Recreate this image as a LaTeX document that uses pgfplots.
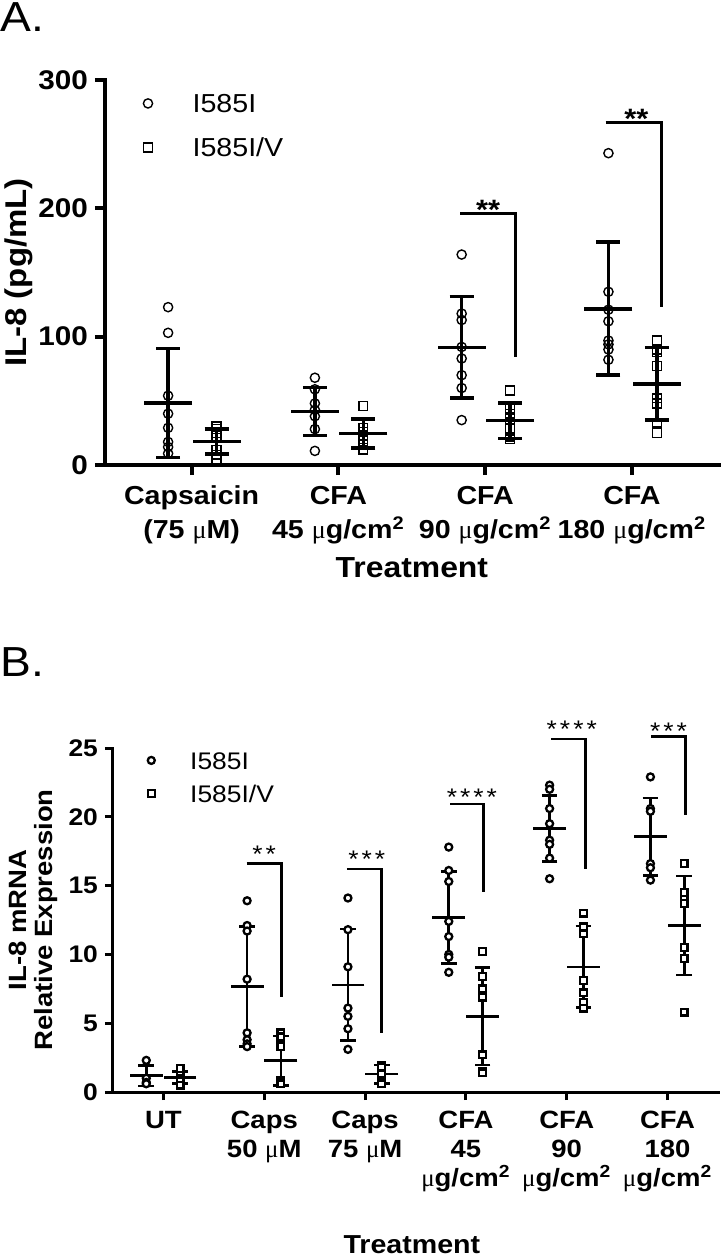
\documentclass[border=0pt]{standalone}
\usepackage{fontspec}
\setmainfont{Liberation Sans}[FakeStretch=1.1]
\newfontfamily\symfont{Liberation Serif}
\newcommand{\umu}{{\symfont\mdseries μ}}
\usepackage{pgfplots}
\pgfplotsset{compat=1.18}

\pgfplotsset{
  panel/.style={
    scale only axis, clip=false,
    axis x line*=bottom, axis y line*=left,
    tick align=outside,
    xtick pos=bottom, ytick pos=left,
    /pgf/number format/assume math mode=true,
    legend cell align=left,
    legend image code/.code={\draw[##1] plot coordinates {(0pt,0pt)};},
  },
}

\begin{document}
\begin{tikzpicture}
\useasboundingbox (0,0) rectangle (360pt,-630pt);

% ---------------- panel A ----------------
\node[anchor=north west, inner sep=0pt, font=\fontsize{21}{24}\selectfont] at (0pt,-1pt) {A.};
\begin{axis}[panel,
    at={(52.5pt,-232.5pt)}, anchor=south west,
    width=307.5pt, height=192.5pt,
    xmin=-0.59, xmax=3.6, ymin=0, ymax=300,
    xtick={0,1,2,3}, ytick={0,100,200,300},
    xticklabels={{Capsaicin\\(75 \umu M)}, {CFA\\45 \umu g/cm\textsuperscript{2}},
                 {CFA\\90 \umu g/cm\textsuperscript{2}}, {CFA\\180 \umu g/cm\textsuperscript{2}}},
    axis line style={line width=2pt, line cap=rect},
    major tick length=5pt,
    tick style={line width=2pt, black},
    xticklabel style={align=center, font=\bfseries\fontsize{13}{17}\selectfont, yshift=-2pt},
    yticklabel style={font=\bfseries\fontsize{13.5}{14}\selectfont},
    ylabel={IL-8 (pg/mL)},
    ylabel style={at={(axis description cs:-0.14,0.5)}, anchor=center, font=\bfseries\fontsize{15}{17}\selectfont},
    xlabel={Treatment},
    xlabel style={at={(axis description cs:0.499,-0.266)}, anchor=center, font=\bfseries\fontsize{14.5}{16}\selectfont},
    legend style={at={(axis description cs:0,1)}, anchor=north west, xshift=19pt, yshift=-7pt,
        draw=none, fill=none, inner sep=0pt, row sep=13pt,
        font=\fontsize{13}{15}\selectfont,
        nodes={inner sep=0pt, text height=9pt, text depth=0pt},
        /tikz/every odd column/.append style={column sep=20pt}},
]
\addplot[only marks, mark=o, mark size=2.3pt, mark options={line width=0.7pt, black}] coordinates {
  (-0.16,123) (-0.16,103) (-0.16,54) (-0.16,40) (-0.16,29) (-0.16,18) (-0.16,14) (-0.16,9)
  (0.84,68) (0.84,59) (0.84,48) (0.84,43) (0.84,38) (0.84,28) (0.84,11)
  (1.84,164) (1.84,118) (1.84,113) (1.84,92) (1.84,83) (1.84,70) (1.84,60) (1.84,35)
  (2.84,243) (2.84,135) (2.84,121) (2.84,112) (2.84,97) (2.84,94) (2.84,90) (2.84,82)
};
\addplot[only marks, mark=square, mark size=2.2pt, mark options={line width=0.7pt, black}] coordinates {
  (0.17,30) (0.17,28) (0.17,25) (0.17,21) (0.17,12) (0.17,8) (0.17,4)
  (1.17,46) (1.17,29) (1.17,26) (1.17,23) (1.17,20) (1.17,16) (1.17,12)
  (2.17,58) (2.17,44) (2.17,40) (2.17,36) (2.17,28) (2.17,22) (2.17,20)
  (3.17,97) (3.17,90) (3.17,88) (3.17,77) (3.17,52) (3.17,48) (3.17,33) (3.17,25)
};
\legend{I585I, I585I/V}
% mean +- SD
\addplot[forget plot, only marks, mark=-, mark size=12pt, mark options={line width=1.8pt, black},
  error bars/.cd, y dir=both, y explicit,
  error bar style={line width=1.8pt, black},
  error mark options={rotate=90, mark size=6pt, line width=1.8pt, black}] coordinates {
  (-0.16,48.3) +- (0,42.6)
  (0.17,18.2) +- (0,9.8)
  (0.84,41.7) +- (0,18.8)
  (1.17,24.5) +- (0,11.4)
  (1.84,91.7) +- (0,39.6)
  (2.17,34.6) +- (0,13.9)
  (2.84,121.8) +- (0,51.8)
  (3.17,63.3) +- (0,28.2)
};
% significance brackets
\addplot[forget plot, line width=1.5pt, black, mark=none] coordinates {(1.83,195.6) (2.21,195.6) (2.21,84)};
\addplot[forget plot, line width=1.5pt, black, mark=none] coordinates {(2.82,266.8) (3.20,266.8) (3.20,123.4)};
\node[anchor=base, inner sep=0pt, font=\bfseries\fontsize{14}{14}\selectfont] at (axis cs:2.02,191.2) {**};
\node[anchor=base, inner sep=0pt, font=\bfseries\fontsize{14}{14}\selectfont] at (axis cs:3.03,262.2) {**};
\end{axis}

% ---------------- panel B ----------------
\node[anchor=north west, inner sep=0pt, font=\fontsize{21}{24}\selectfont] at (0pt,-323.5pt) {B.};
\begin{axis}[panel,
    at={(56.5pt,-546pt)}, anchor=south west,
    width=302.5pt, height=172pt,
    xmin=-0.5, xmax=5.5, ymin=0, ymax=25,
    xtick={0,1,2,3,4,5}, ytick={0,5,10,15,20,25},
    xticklabels={{UT}, {Caps\\50 \umu M}, {Caps\\75 \umu M},
                 {CFA\\45\\\umu g/cm\textsuperscript{2}}, {CFA\\90\\\umu g/cm\textsuperscript{2}},
                 {CFA\\180\\\umu g/cm\textsuperscript{2}}},
    axis line style={line width=1.5pt, line cap=rect},
    major tick length=4pt,
    tick style={line width=1.5pt, black},
    xticklabel style={align=center, font=\bfseries\fontsize{12.5}{14.5}\selectfont, yshift=-2pt},
    yticklabel style={font=\bfseries\fontsize{12}{13}\selectfont},
    ylabel={IL-8 mRNA\\Relative Expression},
    ylabel style={at={(axis description cs:-0.131,0.5)}, anchor=center, align=center,
                  font=\bfseries\fontsize{12.5}{13}\selectfont},
    xlabel={Treatment},
    xlabel style={at={(axis description cs:0.494,-0.445)}, anchor=center, font=\bfseries\fontsize{13}{15}\selectfont},
    legend style={at={(axis description cs:0,1)}, anchor=north west, xshift=17.2pt, yshift=-1.5pt,
        draw=none, fill=none, inner sep=0pt, row sep=7.5pt,
        font=\fontsize{12}{14}\selectfont,
        nodes={inner sep=0pt, text height=9pt, text depth=0pt},
        /tikz/every odd column/.append style={column sep=17.7pt}},
]
% mean +- SD (drawn first, markers on top)
\addplot[forget plot, only marks, mark=-, mark size=8.2pt, mark options={line width=1.3pt, black},
  error bars/.cd, y dir=both, y explicit,
  error bar style={line width=1.3pt, black},
  error mark options={rotate=90, mark size=3.9pt, line width=1.3pt, black}] coordinates {
  (-0.17,1.18) +- (0,0.74)
  (0.165,1.05) +- (0,0.43)
  (0.83,7.66) +- (0,4.35)
  (1.165,2.27) +- (0,1.8)
  (1.83,7.79) +- (0,4.06)
  (2.165,1.3) +- (0,0.66)
  (2.83,12.68) +- (0,3.36)
  (3.165,5.5) +- (0,3.55)
  (3.83,19.14) +- (0,2.39)
  (4.165,9.1) +- (0,2.96)
  (4.83,18.55) +- (0,2.82)
  (5.165,12.1) +- (0,3.6)
};
\addplot[only marks, mark=*, mark size=1.75pt, mark options={line width=1.15pt, draw=black, fill=white}] coordinates {
  (-0.17,2.3) (-0.17,1.0) (-0.17,0.7) (-0.17,0.6)
  (0.83,13.9) (0.83,12.1) (0.83,11.7) (0.83,8.2) (0.83,4.3) (0.83,3.8) (0.83,3.5) (0.83,3.3)
  (1.83,14.1) (1.83,11.8) (1.83,9.1) (1.83,6.1) (1.83,5.5) (1.83,4.6) (1.83,3.1)
  (2.83,17.8) (2.83,16.1) (2.83,15.3) (2.83,12.4) (2.83,11.3) (2.83,10.0) (2.83,9.8) (2.83,8.7)
  (3.83,22.3) (3.83,22.0) (3.83,20.6) (3.83,19.5) (3.83,18.3) (3.83,18.0) (3.83,17.0) (3.83,15.5)
  (4.83,22.9) (4.83,20.6) (4.83,20.4) (4.83,16.6) (4.83,16.3) (4.83,15.4)
};
\addplot[only marks, mark=square*, mark size=1.7pt, mark options={line width=1.15pt, draw=black, fill=white}] coordinates {
  (0.165,1.7) (0.165,1.2) (0.165,1.0) (0.165,0.8) (0.165,0.5)
  (1.165,4.3) (1.165,4.0) (1.165,3.3) (1.165,0.8) (1.165,0.6) (1.165,0.6)
  (2.165,1.9) (2.165,1.8) (2.165,1.3) (2.165,0.7) (2.165,0.6)
  (3.165,10.2) (3.165,8.4) (3.165,7.5) (3.165,6.9) (3.165,2.7) (3.165,1.5) (3.165,1.4)
  (4.165,13.0) (4.165,12.0) (4.165,11.5) (4.165,8.1) (4.165,7.2) (4.165,6.5) (4.165,6.1)
  (5.165,16.6) (5.165,14.5) (5.165,14.0) (5.165,13.7) (5.165,10.5) (5.165,9.7) (5.165,5.8)
};
\legend{I585I, I585I/V}
% significance brackets
\addplot[forget plot, line width=1.25pt, black, mark=none] coordinates {(0.825,16.6) (1.171,16.6) (1.171,6.93)};
\addplot[forget plot, line width=1.25pt, black, mark=none] coordinates {(1.819,16.2) (2.165,16.2) (2.165,4.31)};
\addplot[forget plot, line width=1.25pt, black, mark=none] coordinates {(2.843,20.92) (3.174,20.92) (3.174,14.57)};
\addplot[forget plot, line width=1.25pt, black, mark=none] coordinates {(3.844,25.65) (4.188,25.65) (4.188,16.2)};
\addplot[forget plot, line width=1.25pt, black, mark=none] coordinates {(4.838,25.84) (5.179,25.84) (5.179,20.15)};
\node[anchor=base, inner sep=0pt, font=\fontsize{12}{12}\selectfont] at (axis cs:1.0,16.7) {*\kern1.5pt*};
\node[anchor=base, inner sep=0pt, font=\fontsize{12}{12}\selectfont] at (axis cs:2.016,16.3) {*\kern1.5pt*\kern1.5pt*};
\node[anchor=base, inner sep=0pt, font=\fontsize{12}{12}\selectfont] at (axis cs:3.06,20.8) {*\kern1.5pt*\kern1.5pt*\kern1.5pt*};
\node[anchor=base, inner sep=0pt, font=\fontsize{12}{12}\selectfont] at (axis cs:4.05,25.8) {*\kern1.5pt*\kern1.5pt*\kern1.5pt*};
\node[anchor=base, inner sep=0pt, font=\fontsize{12}{12}\selectfont] at (axis cs:5.01,25.65) {*\kern1.5pt*\kern1.5pt*};
\end{axis}
\end{tikzpicture}
\end{document}
